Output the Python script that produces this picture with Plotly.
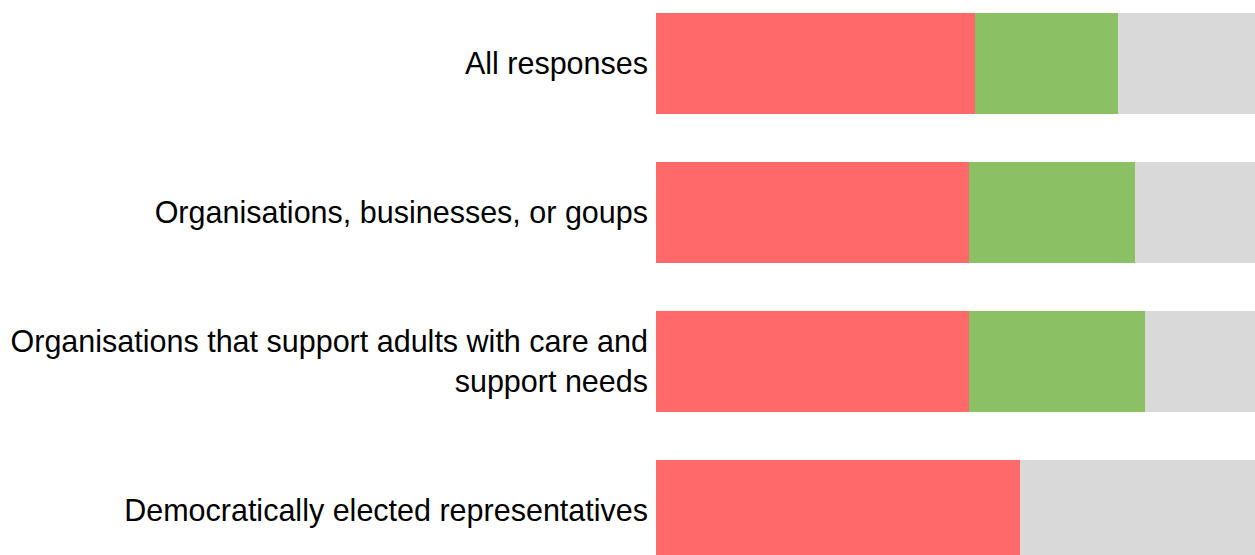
import plotly.graph_objects as go

categories = [
    "All responses",
    "Organisations, businesses, or goups",
    "Organisations that support adults with care and<br>support needs",
    "Democratically elected representatives",
]
red_vals = [53.2, 52.2, 52.3, 60.8]
green_vals = [24.0, 27.8, 29.4, 0.0]
grey_vals = [22.8, 20.0, 18.3, 39.2]

series = [
    ("Disagree", red_vals, "#FF6969"),
    ("Agree", green_vals, "#8BC065"),
    ("Don't know", grey_vals, "#D9D9D9"),
]

ypos = list(range(len(categories)))

fig = go.Figure()
for name, vals, color in series:
    fig.add_trace(go.Bar(
        x=vals, y=ypos, orientation="h", name=name,
        marker=dict(color=color, line=dict(width=0)),
        width=0.68, showlegend=False, hoverinfo="skip",
    ))

fig.update_layout(
    barmode="stack",
    width=1255, height=555,
    margin=dict(l=656, r=0, t=0, b=0),
    paper_bgcolor="white", plot_bgcolor="white",
    font=dict(family="Liberation Sans, Arial, sans-serif", size=30.5, color="black"),
    xaxis=dict(range=[0, 100], visible=False, showgrid=False, zeroline=False, fixedrange=True),
    yaxis=dict(
        range=[3.30, -0.425],
        tickmode="array", tickvals=ypos, ticktext=categories,
        showgrid=False, zeroline=False, showline=False, fixedrange=True,
        ticks="", ticklabelstandoff=7,
    ),
)

fig.write_html(
    "out.html",
    config={"displayModeBar": False},
    post_script="document.body.style.margin='0';document.body.style.overflow='hidden';",
)
